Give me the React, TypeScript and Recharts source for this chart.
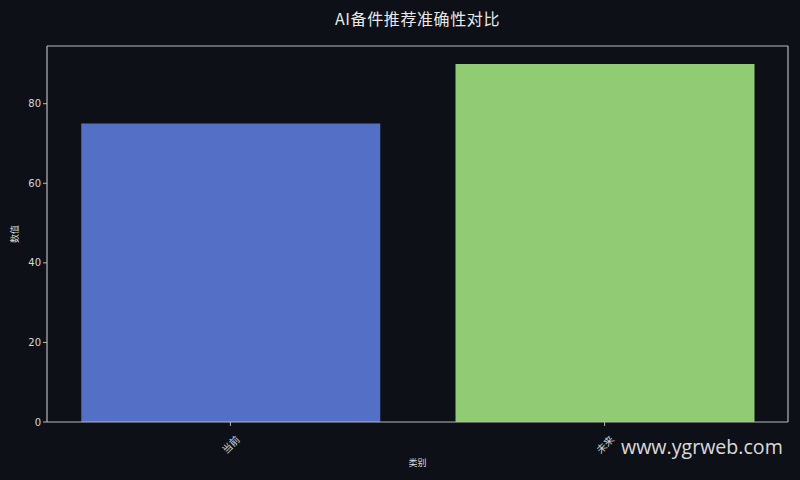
import React from 'react';
import { BarChart, Bar, XAxis, YAxis, Cell, ReferenceLine, Label } from 'recharts';

const categories = ['当前', '未来'];
const values = [75, 90];
const barColors = ['#5470c6', '#91cc75'];
const yTicks = [0, 20, 40, 60, 80];

const data = categories.map((name, i) => ({ x: i, name, value: values[i] }));

const BG = '#0d1017';
const SPINE = '#b8b8b8';
const TEXT = '#d8d8d8';
const FONT = '"Noto Sans CJK SC", "DejaVu Sans", sans-serif';

const XTick = (props: any) => {
  const { x, y, payload } = props;
  const label = categories[payload.value] ?? '';
  const cy = y + 16;
  return (
    <text
      x={x}
      y={cy}
      transform={`rotate(-45, ${x}, ${cy})`}
      textAnchor="middle"
      dominantBaseline="central"
      fill={TEXT}
      fontSize={10}
      fontFamily={FONT}
    >
      {label}
    </text>
  );
};

export default function App() {
  return (
    <div style={{ position: 'absolute', left: 0, top: 0, width: 800, height: 480, background: BG, overflow: 'hidden' }}>
      <div
        style={{
          position: 'absolute',
          left: 47,
          width: 741,
          top: 8,
          textAlign: 'center',
          color: '#e8e8e8',
          fontSize: 16,
          letterSpacing: 0.6,
          fontFamily: FONT,
          lineHeight: '20px',
        }}
      >
        AI备件推荐准确性对比
      </div>
      <BarChart
        width={800}
        height={480}
        data={data}
        margin={{ top: 46, right: 12, bottom: 0, left: 0 }}
      >
        <XAxis
          dataKey="x"
          type="number"
          domain={[-0.49, 1.49]}
          ticks={[0, 1]}
          height={58}
          axisLine={{ stroke: SPINE, strokeWidth: 1.2 }}
          tickLine={{ stroke: SPINE }}
          tickSize={4}
          tick={<XTick />}
          allowDataOverflow
        >
          <Label value="类别" position="insideBottom" offset={14} fill={TEXT} fontSize={9} fontFamily={FONT} />
        </XAxis>
        <YAxis
          type="number"
          domain={[0, 94.5]}
          ticks={yTicks}
          width={47}
          axisLine={{ stroke: SPINE, strokeWidth: 1.2 }}
          tickLine={{ stroke: SPINE }}
          tickSize={4}
          tick={{ fill: TEXT, fontSize: 10, fontFamily: '"DejaVu Sans", sans-serif' }}
          allowDataOverflow
        >
          <Label value="数值" angle={-90} position="insideLeft" offset={15} fill={TEXT} fontSize={9} fontFamily={FONT} style={{ textAnchor: 'middle' }} />
        </YAxis>
        <Bar dataKey="value" barSize={299} isAnimationActive={false}>
          {data.map((d, i) => (
            <Cell key={d.name} fill={barColors[i]} />
          ))}
        </Bar>
        <ReferenceLine y={94.5} stroke={SPINE} strokeWidth={1.2} />
        <ReferenceLine x={1.49} stroke={SPINE} strokeWidth={1.2} />
      </BarChart>
      <div
        style={{
          position: 'absolute',
          left: 621,
          top: 434,
          color: 'rgba(255,255,255,0.86)',
          fontSize: 19.6,
          fontFamily: '"Open Sans", sans-serif',
          lineHeight: '26px',
          whiteSpace: 'nowrap',
        }}
      >
        www.ygrweb.com
      </div>
    </div>
  );
}
